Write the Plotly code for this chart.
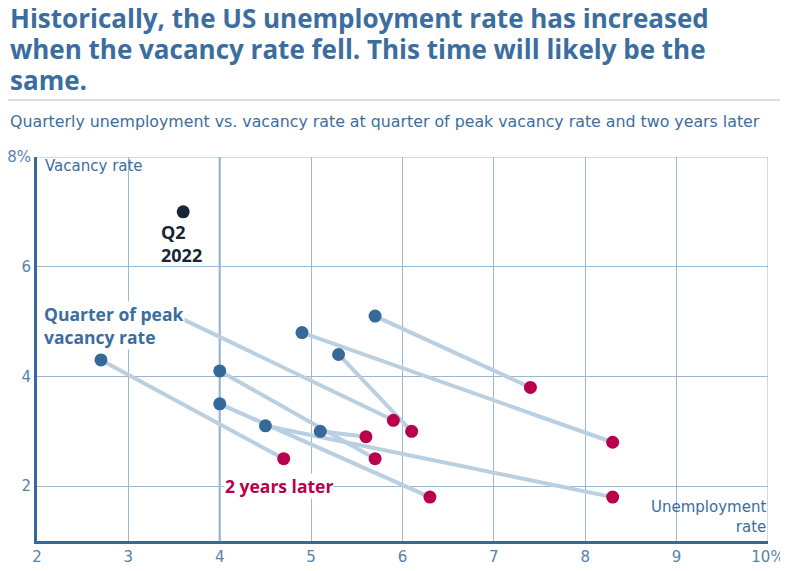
import plotly.graph_objects as go

# Quarter of peak vacancy rate (unemployment %, vacancy %)
peak_unemp = [2.7, 3.4, 4.0, 4.0, 4.5, 5.1, 5.3, 4.9, 5.7]
peak_vac = [4.3, 5.2, 4.1, 3.5, 3.1, 3.0, 4.4, 4.8, 5.1]
# Two years later
later_unemp = [4.7, 5.9, 5.7, 6.3, 8.3, 5.6, 6.1, 8.3, 7.4]
later_vac = [2.5, 3.2, 2.5, 1.8, 1.8, 2.9, 3.0, 2.8, 3.8]
# Current (Q2 2022)
cur_unemp = [3.6]
cur_vac = [7.0]

x_ticks = [2, 3, 4, 5, 6, 7, 8, 9, 10]
x_ticktext = ["2", "3", "4", "5", "6", "7", "8", "9", "10%"]
y_ticks = [2, 4, 6, 8]
y_ticktext = ["2", "4", "6", "8%"]

title_lines = ["Historically, the US unemployment rate has increased",
               "when the vacancy rate fell. This time will likely be the",
               "same."]

BLUE = "#36699a"
RED = "#b8004c"
DARK = "#172636"
TEXTBLUE = "#3b6e9e"
TICKBLUE = "#5682ad"
GRID = "#9db7ce"
LINK = "#bacfe0"
REG = "DejaVu Sans"
BOLD = "Open Sans"

# plot area in page pixels: 37..768 x 157..541 (figure sits at page offset 8,8)
PL, PR, PT, PB = 37, 768, 157, 541
PW, PH = PR - PL, PB - PT


def px(xp):
    return (xp - PL) / PW


def py(yp):
    return (PB - yp) / PH


fig = go.Figure()

# connecting lines
lx, ly = [], []
for a, b, c, d in zip(peak_unemp, peak_vac, later_unemp, later_vac):
    lx += [a, c, None]
    ly += [b, d, None]
fig.add_trace(go.Scatter(x=lx, y=ly, mode="lines",
                         line=dict(color=LINK, width=4), hoverinfo="skip"))

fig.add_trace(go.Scatter(x=peak_unemp, y=peak_vac, mode="markers",
                         marker=dict(color=BLUE, size=13)))
fig.add_trace(go.Scatter(x=later_unemp, y=later_vac, mode="markers",
                         marker=dict(color=RED, size=13)))
fig.add_trace(go.Scatter(x=cur_unemp, y=cur_vac, mode="markers",
                         marker=dict(color=DARK, size=13)))

fig.update_layout(
    width=780, height=563,
    margin=dict(l=29, r=20, t=149, b=30),
    paper_bgcolor="white", plot_bgcolor="white",
    showlegend=False,
    font=dict(family=REG, color=TICKBLUE),
    xaxis=dict(range=[2, 10], tickvals=x_ticks, ticktext=x_ticktext,
               showgrid=True, gridcolor=GRID, gridwidth=1, automargin=False,
               zeroline=False, showline=True, linecolor=BLUE, linewidth=3,
               ticks="", tickfont=dict(size=15, color=TICKBLUE, family=REG)),
    yaxis=dict(range=[1, 8], tickvals=y_ticks, ticktext=y_ticktext,
               showgrid=True, gridcolor=GRID, gridwidth=1, automargin=False,
               zeroline=False, showline=True, linecolor=BLUE, linewidth=3,
               ticks="", tickfont=dict(size=15, color=TICKBLUE, family=REG)),
)

# right and top border grid lines + thicker line at 4
fig.add_shape(type="line", xref="x", yref="y", x0=10, x1=10, y0=1, y1=8,
              line=dict(color=GRID, width=1), layer="below")
fig.add_shape(type="line", xref="x", yref="y", x0=2, x1=10, y0=8, y1=8,
              line=dict(color=GRID, width=1), layer="below")
fig.add_shape(type="line", xref="x", yref="y", x0=4, x1=4, y0=1, y1=8,
              line=dict(color="#a9c1d7", width=2.5), layer="below")

# separator under title
fig.add_shape(type="line", xref="paper", yref="paper",
              x0=px(8), x1=px(783), y0=py(100), y1=py(100),
              line=dict(color="#a8c2d8", width=1))

for line_text, yc in zip(title_lines, [18, 49, 80]):
    fig.add_annotation(xref="paper", yref="paper", x=px(8), y=py(yc),
                       xanchor="left", yanchor="middle", align="left", showarrow=False,
                       text="<b>" + line_text + "</b>",
                       font=dict(size=26, color=TEXTBLUE, family=BOLD))
fig.add_annotation(xref="paper", yref="paper", x=px(8), y=py(121),
                   xanchor="left", yanchor="middle", align="left", showarrow=False,
                   text="Quarterly unemployment vs. vacancy rate at quarter of peak vacancy rate and two years later",
                   font=dict(size=15.8, color=TEXTBLUE, family=REG))

fig.add_annotation(x=2.07, y=7.84, xanchor="left", yanchor="middle", showarrow=False,
                   text="Vacancy rate", font=dict(size=15, color=TEXTBLUE, family=REG))
fig.add_annotation(x=3.34, y=6.42, xanchor="left", yanchor="middle", align="left",
                   showarrow=False, text="<b>Q2<br>2022</b>",
                   font=dict(size=18, color=DARK, family=BOLD))
fig.add_annotation(x=2.065, y=4.92, xanchor="left", yanchor="middle", align="left",
                   showarrow=False, text="<b>Quarter of peak<br>vacancy rate</b>",
                   bgcolor="white", borderpad=0,
                   font=dict(size=17.5, color=TEXTBLUE, family=BOLD))
fig.add_annotation(x=4.05, y=2.0, xanchor="left", yanchor="middle", align="left",
                   showarrow=False, text="<b>2 years later</b>",
                   bgcolor="white", borderpad=0,
                   font=dict(size=17.5, color=RED, family=BOLD))
fig.add_annotation(x=10, y=1.436, xanchor="right", yanchor="middle", align="right",
                   showarrow=False, text="Unemployment<br>rate",
                   font=dict(size=15, color=TEXTBLUE, family=REG))

fig.write_html("out.html")
